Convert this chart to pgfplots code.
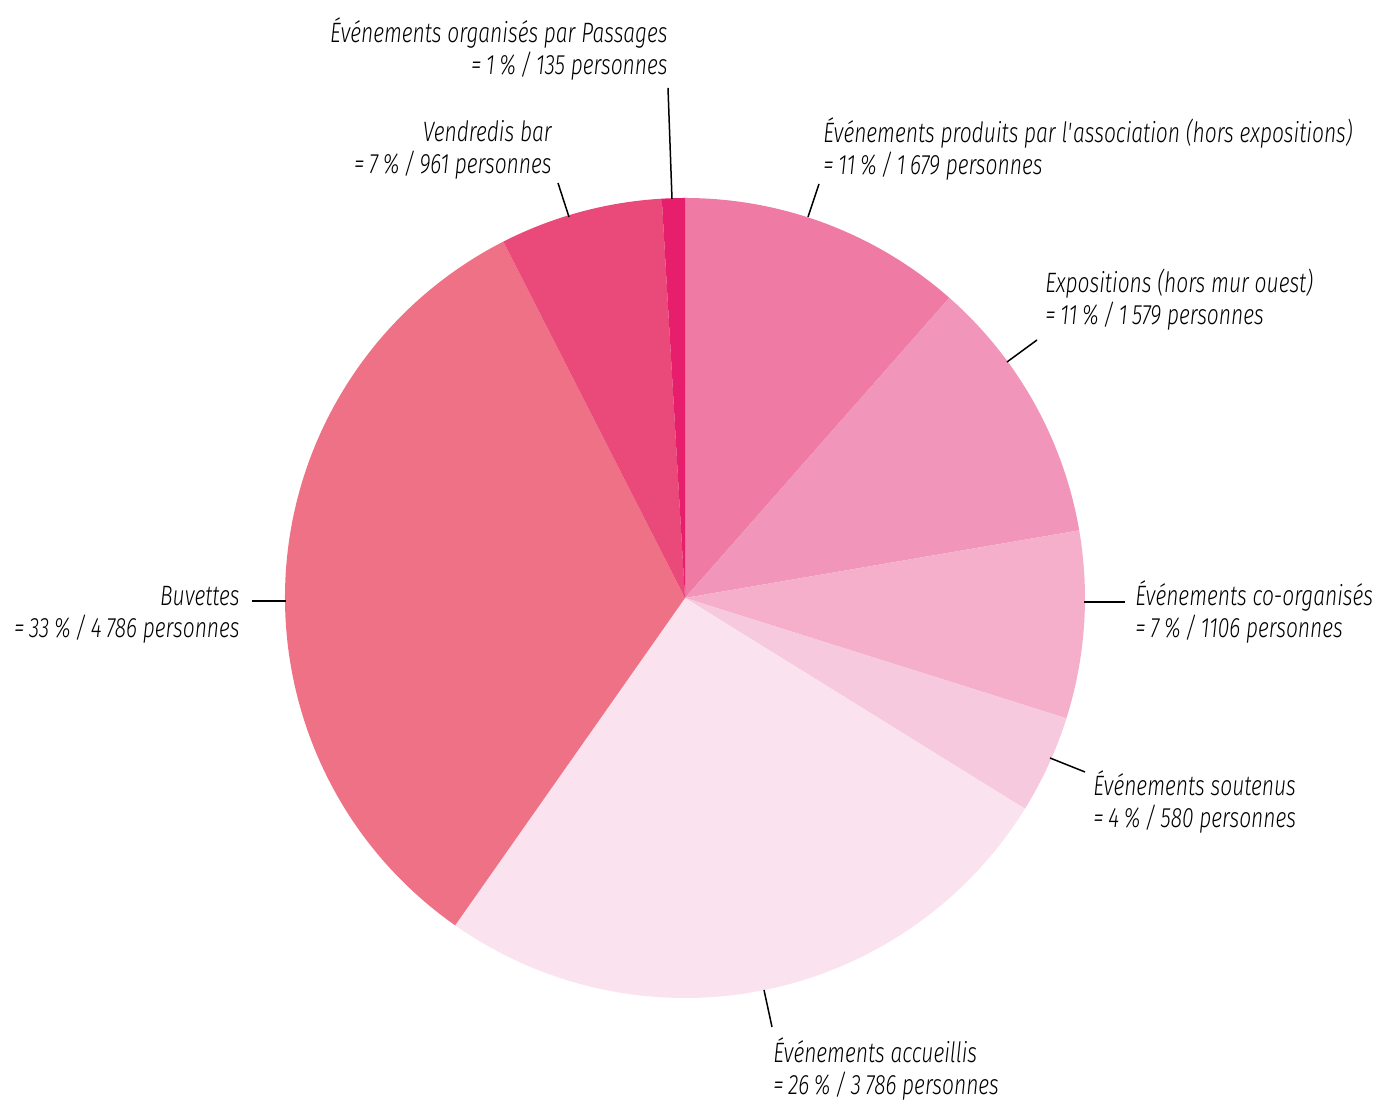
\documentclass[border=0pt]{standalone}
\usepackage{pgfplots}
\usepackage{pgfplotstable}
\pgfplotsset{compat=1.18}
\usepackage{fontspec}
\setmainfont{Fira Sans}[UprightFont=* Light, ItalicFont=* Light Italic, BoldFont=*, FakeStretch=0.75]
\definecolor{c1}{HTML}{EF7BA5}
\definecolor{c2}{HTML}{F196BA}
\definecolor{c3}{HTML}{F5AFCB}
\definecolor{c4}{HTML}{F7C9DE}
\definecolor{c5}{HTML}{FBE2EF}
\definecolor{c6}{HTML}{EF7185}
\definecolor{c7}{HTML}{E94A7A}
\definecolor{c8}{HTML}{E61E6B}
\pgfplotstableread{
value colour
1679 c1
1579 c2
1106 c3
580 c4
3786 c5
4786 c6
961 c7
135 c8
}\piedata
\begin{document}
\begin{tikzpicture}
\begin{axis}[x=1pt,y=1pt,xmin=0,xmax=691.5,ymin=0,ymax=551,
  hide axis, clip=false, scale only axis]
\path (axis cs:0,0) rectangle (axis cs:691.5,551);
\gdef\total{0}
\pgfplotsforeachungrouped \i in {0,...,7}{%
  \pgfplotstablegetelem{\i}{value}\of\piedata
  \pgfmathsetmacro\total{\total+\pgfplotsretval}%
}
\gdef\cum{0}
\pgfplotsforeachungrouped \i in {0,...,7}{%
  \pgfplotstablegetelem{\i}{value}\of\piedata \let\v\pgfplotsretval
  \pgfplotstablegetelem{\i}{colour}\of\piedata \let\c\pgfplotsretval
  \pgfmathsetmacro\a{90-360*(\cum/\total)}%
  \pgfmathsetmacro\cum{\cum+\v}%
  \pgfmathsetmacro\b{90-360*(\cum/\total)}%
  \edef\temp{\noexpand\fill[\c] (axis cs:342.5,252) -- ++(\a:200pt) arc[start angle=\a, end angle=\b, radius=200pt] -- cycle;}%
  \temp
}
\begin{scope}[every node/.style={font=\fontsize{14}{16}\selectfont\itshape, inner sep=0pt}]
% Passages
\node[anchor=base east] at (axis cs:334,529.5) {Événements organisés par Passages};
\node[anchor=base east] at (axis cs:334,513.5) {=\,1\,\%\,/\,135 personnes};
\draw[line width=0.75pt] (axis cs:334,507) -- (axis cs:336,451.5);
% Vendredis
\node[anchor=base east] at (axis cs:276,480) {Vendredis bar};
\node[anchor=base east] at (axis cs:276,464) {=\,7\,\%\,/\,961 personnes};
\draw[line width=0.75pt] (axis cs:279,459.5) -- (axis cs:284.5,442.5);
% produits
\node[anchor=base west] at (axis cs:411.5,479.5) {Événements produits par l\textquotesingle association (hors expositions)};
\node[anchor=base west] at (axis cs:411.5,463.5) {=\,11\,\%\,/\,1\,679 personnes};
\draw[line width=0.75pt] (axis cs:409.5,459) -- (axis cs:404,442.5);
% Expositions
\node[anchor=base west] at (axis cs:522.5,404.5) {Expositions (hors mur ouest)};
\node[anchor=base west] at (axis cs:522.5,388.5) {=\,11\,\%\,/\,1\,579 personnes};
\draw[line width=0.75pt] (axis cs:518.5,381) -- (axis cs:503.5,370);
% co-organises
\node[anchor=base west] at (axis cs:567.5,248) {Événements co-organisés};
\node[anchor=base west] at (axis cs:567.5,232) {=\,7\,\%\,/\,1106 personnes};
\draw[line width=0.75pt] (axis cs:542,250) -- (axis cs:562.5,250);
% soutenus
\node[anchor=base west] at (axis cs:546.5,153) {Événements soutenus};
\node[anchor=base west] at (axis cs:546.5,137) {=\,4\,\%\,/\,580 personnes};
\draw[line width=0.75pt] (axis cs:525,172) -- (axis cs:542.5,165);
% accueillis
\node[anchor=base west] at (axis cs:386.5,19.5) {Événements accueillis};
\node[anchor=base west] at (axis cs:386.5,3.5) {=\,26\,\%\,/\,3\,786 personnes};
\draw[line width=0.75pt] (axis cs:382,56) -- (axis cs:386,37.5);
% Buvettes
\node[anchor=base east] at (axis cs:120,248) {Buvettes};
\node[anchor=base east] at (axis cs:120,232) {=\,33\,\%\,/\,4\,786 personnes};
\draw[line width=0.75pt] (axis cs:126,250.5) -- (axis cs:143,250.5);
\end{scope}
\end{axis}
\end{tikzpicture}
\end{document}
